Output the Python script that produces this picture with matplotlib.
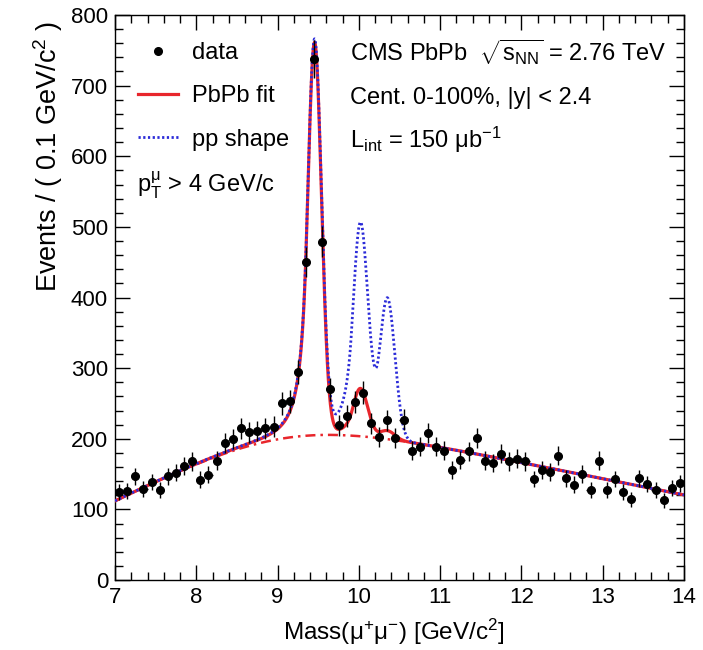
import numpy as np
import matplotlib
matplotlib.use("Agg")
import matplotlib.pyplot as plt
from matplotlib.ticker import MultipleLocator
from matplotlib.lines import Line2D

# ---------------- data ----------------
bin_lo, bin_width = 7.0, 0.1
counts = [125, 126, 147, 129, 139, 127, 147, 152, 162, 168,
          142, 149, 169, 194, 200, 215, 209, 211, 215, 217,
          250, 253, 294, 450, 738, 479, 270, 219, 232, 252,
          265, 222, 202, 226, 201, 227, 183, 189, 208, 189,
          183, 156, 170, 182, 201, 169, 166, 179, 168, 172,
          168, 143, 156, 153, 176, 144, 135, 150, 127, 169,
          127, 143, 125, 114, 144, 136, 128, 113, 130, 137]
centers = bin_lo + bin_width * (np.arange(len(counts)) + 0.5)

# ---------------- fit-model parameters ----------------
bkg_rise = (7.0, 113.0, 57.0)     # anchor mass, value, slope of rising edge
bkg_fall = (10.5, 201.0, -23.0)   # anchor mass, value, slope of falling edge
bkg_soft = 46.0                   # smoothness of the turnover
ups_mass = [9.455, 10.018, 10.350]
sigma_1s = 0.085
cb_alpha, cb_n = 1.2, 3.0
pbpb_amp = [555.0, 67.0, 12.0]
pp_amp = [555.0, 290.0, 200.0]

legend_labels = ["data", "PbPb fit", "pp shape"]
info_lines = [r"CMS PbPb  $\sqrt{s_{NN}}$ = 2.76 TeV",
              r"Cent. 0-100%, |y| < 2.4",
              r"L$_{int}$ = 150 μb$^{-1}$"]
cut_text = r"p$_{T}^{μ}$ > 4 GeV/c"

# ---------------- model ----------------
def background(m):
    r = bkg_rise[1] + bkg_rise[2] * (m - bkg_rise[0])
    f = bkg_fall[1] + bkg_fall[2] * (m - bkg_fall[0])
    lo = np.minimum(r, f)
    return lo - bkg_soft * np.log(np.exp(-(r - lo) / bkg_soft) + np.exp(-(f - lo) / bkg_soft))

def crystal_ball(t):
    A = (cb_n / cb_alpha) ** cb_n * np.exp(-cb_alpha ** 2 / 2)
    B = cb_n / cb_alpha - cb_alpha
    tail = A * np.clip(B - t, 1e-6, None) ** (-cb_n)
    return np.where(t > -cb_alpha, np.exp(-t ** 2 / 2), tail)

def signal(m, amps):
    s = np.zeros_like(m)
    for mu, a in zip(ups_mass, amps):
        sig = sigma_1s * mu / ups_mass[0]
        s += a * crystal_ball((m - mu) / sig)
    return s

mgrid = np.linspace(7.0, 14.0, 2801)
bkg = background(mgrid)
pbpb = bkg + signal(mgrid, pbpb_amp)
pp = bkg + signal(mgrid, pp_amp)

# ---------------- plot ----------------
plt.rcParams["font.family"] = ["Liberation Sans", "DejaVu Sans"]
plt.rcParams["mathtext.fontset"] = "custom"
plt.rcParams["mathtext.rm"] = "Liberation Sans"
plt.rcParams["mathtext.it"] = "Liberation Sans"
plt.rcParams["mathtext.default"] = "regular"

fig = plt.figure(figsize=(7.03, 6.5), dpi=100)
ax = fig.add_axes([115 / 703, 70 / 650, 569 / 703, 565 / 650])

red = "#e8262c"
blue = "#2b2bd8"
ax.plot(mgrid, pbpb, color=red, lw=2.3, zorder=3)
ax.plot(mgrid, bkg, color=red, lw=1.8, ls=(0, (4, 2, 1, 2)), zorder=2)
ax.plot(mgrid, pp, color=blue, lw=2.0, ls=(0, (0.8, 0.9)), zorder=4)
ax.errorbar(centers, counts, yerr=np.sqrt(counts), xerr=bin_width / 2,
            fmt="o", color="black", ms=5.5, elinewidth=1.0, capsize=0, zorder=5)

ax.set_xlim(7, 14)
ax.set_ylim(0, 800)
ax.xaxis.set_major_locator(MultipleLocator(1))
ax.xaxis.set_minor_locator(MultipleLocator(0.2))
ax.yaxis.set_major_locator(MultipleLocator(100))
ax.yaxis.set_minor_locator(MultipleLocator(20))
ax.tick_params(which="both", direction="in", top=True, right=True, labelsize=16, width=1.0)
ax.tick_params(which="major", length=11)
ax.tick_params(which="minor", length=6)
ax.tick_params(axis="x", pad=5)
ax.tick_params(axis="y", pad=5)
for s in ax.spines.values():
    s.set_linewidth(1.0)

ax.set_xlabel(r"Mass(μ$^{+}$μ$^{-}$) [GeV/c$^{2}$]", fontsize=17.5)
ax.xaxis.set_label_coords(0.49, -0.066)
ax.set_ylabel(r"Events / ( 0.1 GeV/c$^{2}$ )", fontsize=19.5, loc="top")
ax.yaxis.set_label_coords(-0.088, 0.99)

handles = [Line2D([], [], marker="o", color="black", ls="none", ms=5.5),
           Line2D([], [], color=red, lw=2.3),
           Line2D([], [], color=blue, lw=2.0, ls=(0, (0.8, 0.9)))]
ax.legend(handles, legend_labels, loc="upper left", bbox_to_anchor=(0.04, 0.952),
          frameon=False, fontsize=17, handlelength=1.7, handletextpad=0.6,
          labelspacing=0.9, borderpad=0, borderaxespad=0)

for txt, yy in zip(info_lines, [0.9345, 0.853, 0.779]):
    ax.text(0.413, yy, txt, transform=ax.transAxes, fontsize=17, va="center", ha="left")
ax.text(0.039, 0.699, cut_text, transform=ax.transAxes, fontsize=17, va="center", ha="left")

fig.savefig("out.png", dpi=100)
